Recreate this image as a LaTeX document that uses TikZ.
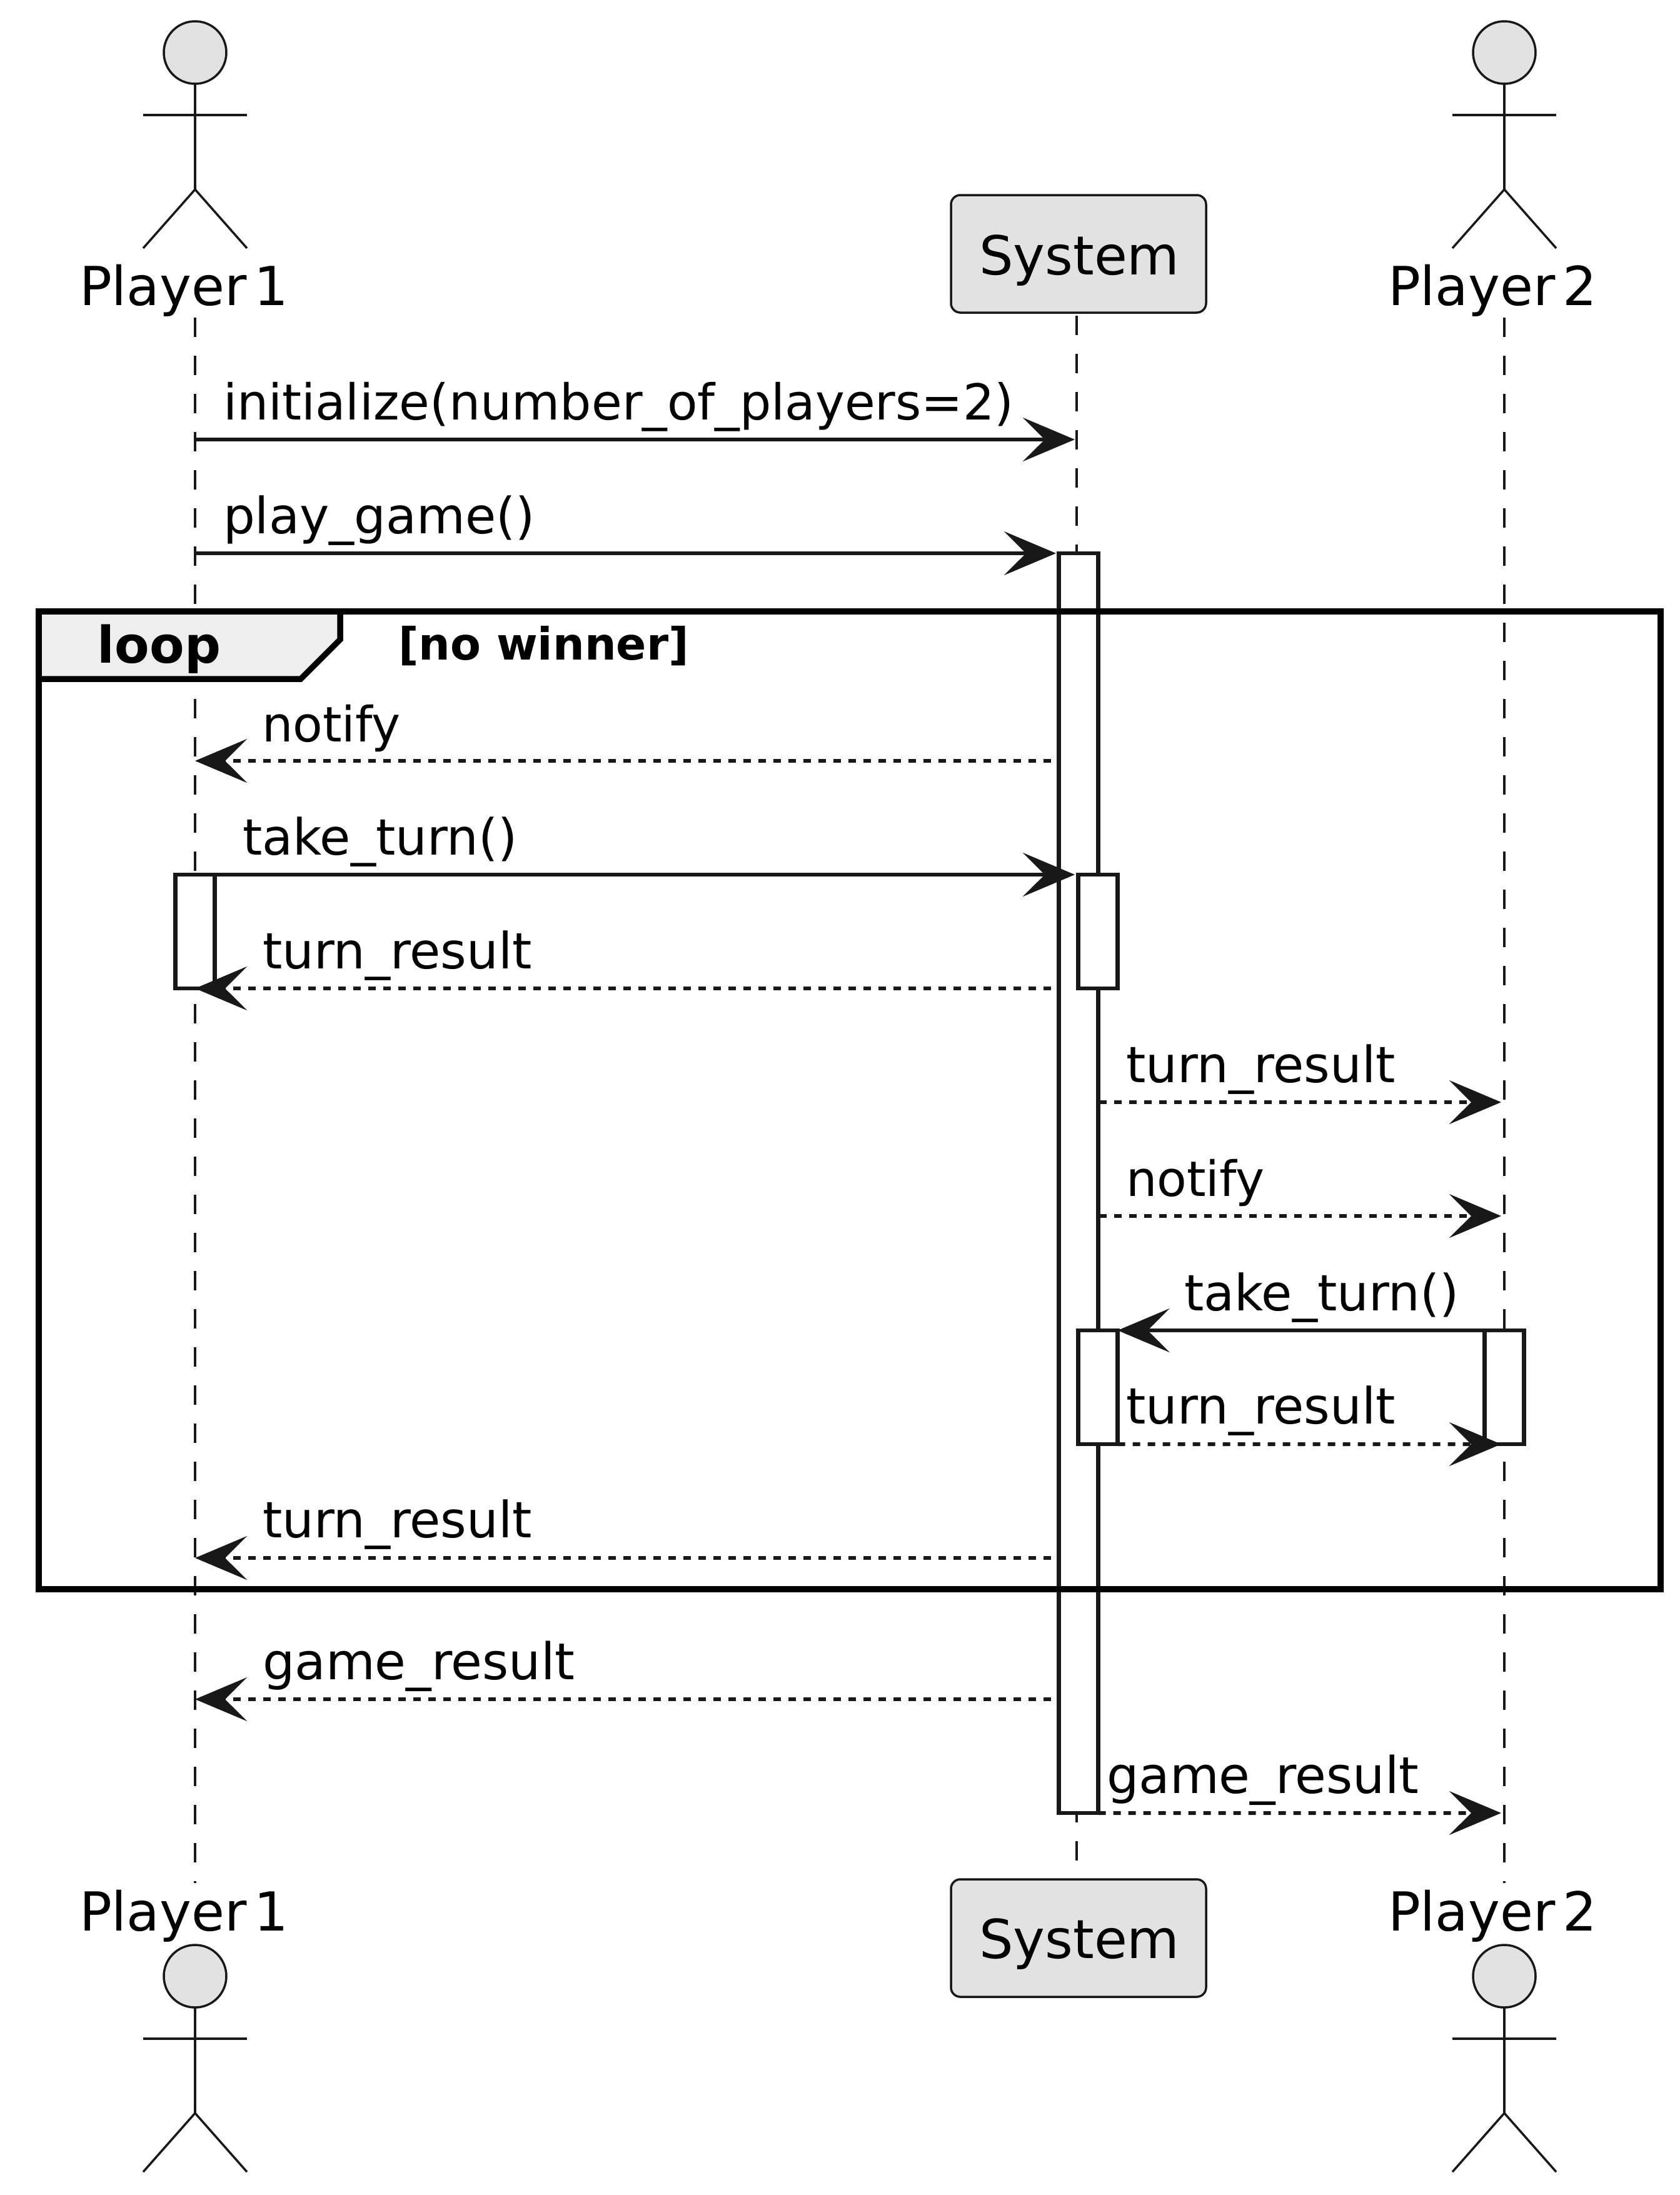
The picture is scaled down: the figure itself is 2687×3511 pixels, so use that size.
\documentclass[tikz,border=0pt]{standalone}
\usepackage{fontspec}
\setmainfont{DejaVu Sans}
\usetikzlibrary{arrows.meta,positioning,calc}
\definecolor{inkline}{HTML}{181818}
\definecolor{boxgrey}{HTML}{E2E2E2}
\definecolor{tabgrey}{HTML}{EEEEEE}

\begin{document}
\begin{tikzpicture}[
    x=0.2pt, y=-0.2pt,
    part/.style={draw=inkline, line width=0.7pt, fill=boxgrey, rounded corners=3pt, minimum width=81.6pt, minimum height=37.6pt, inner sep=0pt, outer sep=0pt},
    partlbl/.style={font=\fontsize{17.2}{20}\selectfont, inner sep=0pt, anchor=base west},
    head/.style={draw=inkline, line width=0.7pt, fill=boxgrey, circle, minimum size=20pt, inner sep=0pt, outer sep=0pt},
    limb/.style={draw=inkline, line width=0.7pt},
    lifeline/.style={draw=inkline, line width=0.7pt, dash pattern=on 6.1pt off 6.1pt},
    actbar/.style={draw=inkline, line width=1.3pt, fill=white, minimum width=12.6pt, inner sep=0pt, outer sep=0pt},
    arr/.style={draw=inkline, line width=1.2pt, -{Stealth[length=16.6pt, width=14pt, inset=7pt, inkline]}},
    darr/.style={arr, dash pattern=on 2.4pt off 2.4pt},
    msg/.style={font=\fontsize{16}{19}\selectfont, inner sep=0pt, anchor=base west},
    frm/.style={draw=black, line width=1.9pt},
    frmlbl/.style={font=\fontsize{16.2}{19}\selectfont\bfseries, inner sep=0pt, anchor=base west}
]
\useasboundingbox (0,0) rectangle (2687,3511);

% lifelines
\coordinate (p1top) at (312,508);
\coordinate (p1bot) at (312,3012);
\coordinate (systop) at (1722,505);
\coordinate (sysbot) at (1722,2976);
\coordinate (p2top) at (2406,508);
\coordinate (p2bot) at (2406,3012);
\draw[lifeline] (p1top) -- (p1bot);
\draw[lifeline] (systop) -- (sysbot);
\draw[lifeline] (p2top) -- (p2bot);

% actors
\foreach \ax/\ay/\an in {312/84/a, 2406/84/b, 312/3161/c, 2406/3161/d} {
  \node[head] (head\an) at (\ax,\ay) {};
  \draw[limb] (head\an.south) -- ++(0,169) coordinate (hip\an);
  \draw[limb] ($(head\an.center)+(-83,100)$) -- ($(head\an.center)+(83,100)$);
  \draw[limb] ($(hip\an)+(-83,94)$) -- (hip\an) -- ($(hip\an)+(83,94)$);
}
\node[partlbl] (p1up) at (126,488) {Player\kern-3.1pt\ 1};
\node[partlbl] (p2up) at (2219,488) {Player\kern-3.1pt\ 2};
\node[partlbl] (p1down) at (126,3088) {Player\kern-3.1pt\ 1};
\node[partlbl] (p2down) at (2219,3088) {Player\kern-3.1pt\ 2};

% system boxes
\node[part] (sysup) at (1725,406) {};
\node[part] (sysdown) at (1725,3100) {};
\node[partlbl] (sysuplbl) at (1565,439) {System};
\node[partlbl] (sysdownlbl) at (1565,3132) {System};

% long activation
\node[actbar, minimum height=403pt] (actsys) at (1725,1892.5) {};

% loop frame
\draw[frm] (62,978) rectangle (2656,2542);
\draw[frm, fill=tabgrey] (62,978) -- (544,978) -- (544,1023) -- (481,1086) -- (62,1086) -- cycle;
\node[frmlbl] (looplbl) at (155,1060) {loop};
\node[frmlbl, font=\fontsize{14.25}{17}\selectfont\bfseries] (guardlbl) at (636,1055) {[no winner]};

% short activations
\node[actbar, minimum height=36.4pt] (actp1) at (312,1490) {};
\node[actbar, minimum height=36.4pt] (actsysb) at (1756,1490) {};
\node[actbar, minimum height=36.4pt] (actsysc) at (1756,2219) {};
\node[actbar, minimum height=36.4pt] (actp2) at (2406,2219) {};

% message ends
\coordinate (m1a) at (312,703);   \coordinate (m1b) at (1719,703);
\coordinate (m2a) at (312,885);   \coordinate (m2b) at (1689,885);
\coordinate (m3a) at (1681,1217); \coordinate (m3b) at (312,1217);
\coordinate (m4a) at (312,1399);  \coordinate (m4b) at (1719,1399);
\coordinate (m5a) at (1681,1581); \coordinate (m5b) at (312,1581);
\coordinate (m6a) at (1758,1763); \coordinate (m6b) at (2401,1763);
\coordinate (m7a) at (1758,1945); \coordinate (m7b) at (2401,1945);
\coordinate (m9b) at (2401,2310);
\coordinate (m10a) at (1681,2492); \coordinate (m10b) at (312,2492);
\coordinate (m11a) at (1681,2718); \coordinate (m11b) at (312,2718);
\coordinate (m12b) at (2401,2900);

\draw[arr] (m1a) -- (m1b);
\draw[arr] (m2a) -- (m2b);
\draw[darr] (m3a) -- (m3b);
\draw[arr] (m4a) -- (m4b);
\draw[darr] (m5a) -- (m5b);
\draw[darr] (m6a) -- (m6b);
\draw[darr] (m7a) -- (m7b);
\draw[arr] (actp2.north west) -- (actsysc.north east);
\draw[darr] (actsysc.south east) -- (m9b);
\draw[darr] (m10a) -- (m10b);
\draw[darr] (m11a) -- (m11b);
\draw[darr] (actsys.south east) -- (m12b);

% message labels
\node[msg, font=\fontsize{15.85}{19}\selectfont] (lblinit) at (356,671) {initialize(number\_of\_players=2)};
\node[msg] (lblplay) at (356,853) {play\_game()};
\node[msg, font=\fontsize{15.6}{19}\selectfont] (lblnotifya) at (418,1186) {notify};
\node[msg] (lbltakea) at (387,1367) {take\_turn()};
\node[msg] (lblresa) at (419,1549) {turn\_result};
\node[msg] (lblresb) at (1800,1731) {turn\_result};
\node[msg, font=\fontsize{15.6}{19}\selectfont] (lblnotifyb) at (1800,1913) {notify};
\node[msg] (lbltakeb) at (1893,2096) {take\_turn()};
\node[msg] (lblresc) at (1800,2277) {turn\_result};
\node[msg] (lblresd) at (419,2459) {turn\_result};
\node[msg, font=\fontsize{16.2}{19}\selectfont] (lblgamea) at (419,2686) {game\_result};
\node[msg, font=\fontsize{16.2}{19}\selectfont] (lblgameb) at (1769,2868) {game\_result};
\end{tikzpicture}
\end{document}
